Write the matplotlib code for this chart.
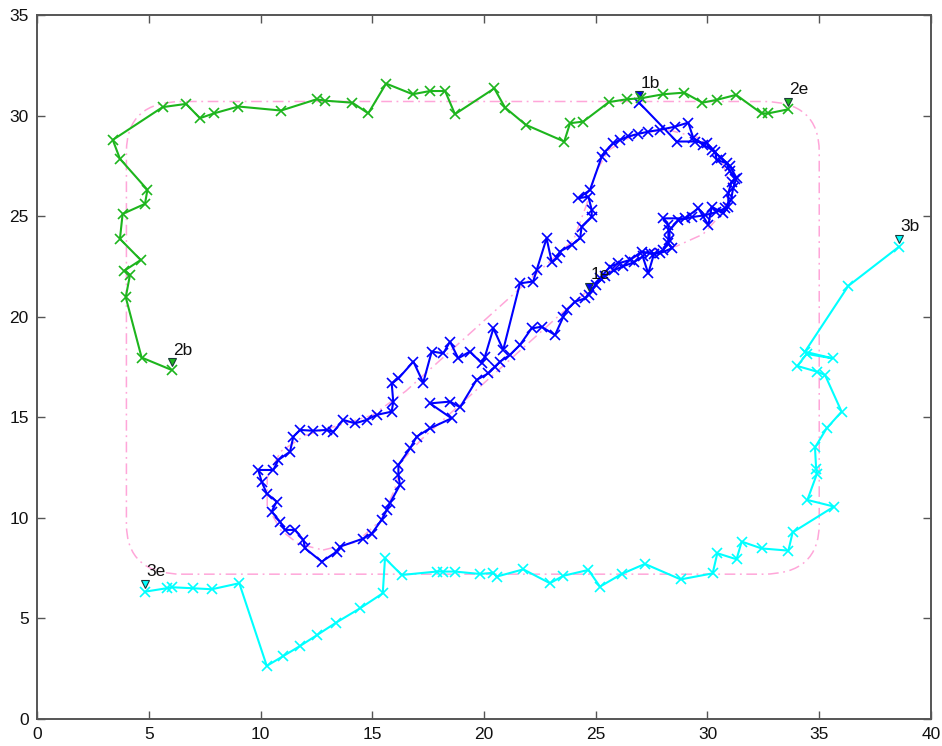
'''
trajectories of three robots with their reference paths (matlab style plot)
'''
import numpy as np
import matplotlib
matplotlib.use('Agg')
import matplotlib.pyplot as plt
from matplotlib.patches import FancyBboxPatch
from matplotlib.transforms import offset_copy

plt.rcParams['font.family'] = ['Liberation Sans', 'DejaVu Sans']

# robot 1 (blue) - follows the peanut shaped path
blue_x = [26.95, 28.62, 29.44, 29.96, 30.34, 30.41, 30.86, 31.0, 31.23, 31.08, 30.93, 30.93,
          30.71, 30.19, 30.04, 29.59, 28.99, 28.02, 28.25, 28.25, 28.4, 27.87, 27.43, 27.06,
          26.53, 26.01, 25.64, 25.19, 24.82, 24.52, 24.07, 23.7, 23.55, 23.18, 22.58, 22.13,
          21.61, 21.16, 20.72, 20.49, 20.19, 19.67, 18.93, 18.48, 17.58, 18.55, 17.58, 16.99,
          16.69, 16.17, 16.17, 16.24, 15.79, 15.65, 15.42, 14.98, 14.6, 13.56, 13.41, 12.74,
          11.99, 11.92, 11.54, 11.1, 10.87, 10.5, 10.72, 10.28, 10.05, 9.9, 10.57, 10.8,
          11.32, 11.47, 11.77, 12.36, 12.96, 13.26, 13.7, 14.23, 14.75, 15.2, 15.87, 15.94,
          15.87, 16.17, 16.84, 17.28, 17.66, 18.18, 18.48, 18.85, 19.37, 19.9, 20.04, 20.42,
          20.86, 21.61, 22.2, 22.36, 22.8, 23.03, 23.25, 23.4, 23.92, 24.3, 24.37, 24.82,
          24.82, 24.67, 24.22, 24.74, 25.27, 25.41, 25.79, 26.08, 26.46, 26.9, 27.35, 27.87,
          28.55, 29.14, 29.36, 29.8, 30.2, 30.6, 31.0, 31.3, 31.15, 31.05, 30.8, 30.4,
          29.9, 29.3, 28.7, 28.3, 28.3, 28.0, 27.6, 27.35, 27.1, 26.7, 26.2, 25.8,
          25.4, 25.0, 24.7]
blue_y = [30.63, 28.71, 28.71, 28.63, 28.21, 27.8, 27.63, 27.22, 26.87, 26.72, 26.13, 25.47,
          25.14, 25.47, 24.56, 25.39, 24.89, 24.89, 24.56, 23.65, 23.4, 23.15, 23.15, 23.24,
          22.82, 22.65, 22.49, 21.91, 21.33, 20.91, 20.75, 20.34, 20.0, 19.09, 19.5, 19.42,
          18.6, 18.1, 17.77, 17.52, 17.18, 16.86, 15.5, 15.78, 15.69, 14.95, 14.45, 14.04,
          13.45, 12.63, 12.13, 11.64, 10.73, 10.39, 9.9, 9.22, 8.97, 8.57, 8.32, 7.82,
          8.49, 8.9, 9.4, 9.4, 9.81, 10.31, 10.81, 11.21, 11.8, 12.38, 12.38, 12.88,
          13.29, 14.04, 14.37, 14.33, 14.37, 14.28, 14.87, 14.7, 14.87, 15.12, 15.28, 15.78,
          16.68, 16.93, 17.77, 16.72, 18.27, 18.18, 18.76, 17.93, 18.27, 17.68, 18.01, 19.42,
          18.35, 21.66, 21.75, 22.33, 23.9, 22.73, 22.9, 23.24, 23.57, 23.9, 24.48, 24.98,
          25.31, 25.97, 25.89, 26.3, 27.96, 28.21, 28.62, 28.79, 28.96, 29.09, 29.2, 29.29,
          29.45, 29.65, 28.9, 28.55, 28.3, 27.9, 27.5, 26.9, 26.4, 25.8, 25.4, 25.2,
          25.05, 24.95, 24.8, 24.3, 23.8, 23.3, 23.1, 22.15, 23.0, 22.7, 22.5, 22.3,
          22.0, 21.6, 21.1]

# robot 2 (green)
green_x = [6.03, 4.68, 3.97, 4.16, 3.91, 4.64, 3.71, 3.83, 4.83, 4.94, 3.71, 3.39,
           5.62, 6.67, 7.29, 7.92, 9.01, 10.92, 12.51, 12.89, 14.11, 14.82, 15.62, 16.81,
           17.58, 18.26, 18.7, 20.46, 20.94, 21.87, 23.59, 23.85, 24.44, 25.59, 26.38, 27.02,
           28.02, 28.96, 29.77, 30.41, 31.28, 32.42, 32.72, 33.61]
green_y = [17.35, 17.97, 20.97, 22.08, 22.29, 22.82, 23.87, 25.11, 25.61, 26.31, 27.85, 28.79,
           30.42, 30.58, 29.87, 30.11, 30.45, 30.25, 30.81, 30.74, 30.64, 30.11, 31.59, 31.06,
           31.22, 31.22, 30.07, 31.35, 30.4, 29.54, 28.71, 29.62, 29.7, 30.67, 30.81, 30.86,
           31.06, 31.14, 30.64, 30.78, 31.03, 30.11, 30.11, 30.31]

# robot 3 (cyan)
cyan_x = [38.57, 36.3, 34.36, 35.6, 34.44, 34.02, 34.89, 35.26, 36.0, 35.33, 34.81, 34.86,
          34.9, 34.47, 35.66, 33.81, 33.62, 32.42, 31.53, 31.3, 30.44, 30.23, 28.8, 27.2,
          26.16, 25.19, 24.67, 23.55, 22.95, 21.76, 20.57, 20.42, 19.82, 18.7, 18.18, 17.88,
          16.32, 15.57, 15.47, 14.45, 13.38, 12.54, 11.77, 11.02, 10.28, 9.05, 7.82, 6.97,
          6.03, 5.8, 4.83]
cyan_y = [23.48, 21.53, 18.26, 17.93, 18.15, 17.55, 17.27, 17.1, 15.28, 14.45, 13.5, 12.45,
          12.2, 10.89, 10.56, 9.28, 8.37, 8.48, 8.82, 7.94, 8.24, 7.24, 6.94, 7.71,
          7.21, 6.58, 7.41, 7.12, 6.75, 7.44, 7.08, 7.27, 7.21, 7.33, 7.33, 7.33,
          7.16, 7.99, 6.25, 5.5, 4.79, 4.18, 3.63, 3.13, 2.64, 6.75, 6.45, 6.5,
          6.55, 6.5, 6.33]

# reference paths (pink, dash dot)
rect_x0, rect_y0, rect_x1, rect_y1 = 4.0, 7.2, 35.0, 30.7
rect_radius = 2.5
peanut_x = [12.8, 14.3, 15.4, 16.0, 16.3, 17.2, 18.5, 23.4, 26.0, 27.5, 28.6, 29.8, 30.7,
            31.0, 30.6, 29.6, 28.2, 26.8, 25.6, 25.0, 24.6, 24.0, 19.5, 16.5, 15.0, 13.5,
            12.0, 10.9, 10.3, 10.3, 10.9, 11.7, 12.8]
peanut_y = [8.4, 8.8, 9.9, 11.4, 12.8, 13.9, 15.2, 20.1, 22.6, 23.3, 23.5, 24.1, 25.2,
            26.5, 27.9, 28.9, 29.3, 29.1, 28.3, 27.2, 25.6, 23.8, 19.3, 16.3, 15.1, 14.6,
            14.1, 13.3, 12.0, 10.6, 9.4, 8.7, 8.4]

robot_names = ['1', '2', '3']
robot_colors = ['#0000ff', '#1db51d', '#00ffff']

ref_color = '#ffa6d9'
ref_style = (0, (7, 3, 1.2, 3))

fig = plt.figure(figsize=(9.42, 7.46), dpi=100)
ax = fig.add_axes([0.0393, 0.0362, 0.9490, 0.9437])

# reference paths
box = FancyBboxPatch((rect_x0, rect_y0), rect_x1 - rect_x0, rect_y1 - rect_y0,
                     boxstyle='round,pad=0,rounding_size=%g' % rect_radius,
                     fill=False, edgecolor=ref_color, linewidth=1.1, linestyle=ref_style)
ax.add_patch(box)
ax.plot(peanut_x, peanut_y, color=ref_color, lw=1.1, linestyle=ref_style)

# trajectories
tracks = [(blue_x, blue_y), (green_x, green_y), (cyan_x, cyan_y)]
tri_trans = offset_copy(ax.transData, fig=fig, x=0, y=5.5, units='points')
txt_trans = offset_copy(ax.transData, fig=fig, x=1, y=11, units='points')

for (xs, ys), name, col in zip(tracks, robot_names, robot_colors):
    ax.plot(xs, ys, '-', color=col, lw=1.5, marker='x', ms=6.5, mew=1.2)
    # begin / end markers
    for idx, tag in [(0, 'b'), (-1, 'e')]:
        ax.plot(xs[idx], ys[idx], 'v', color=col, ms=6, mec='#1a3a3a', mew=0.8,
                transform=tri_trans)
        ax.text(xs[idx], ys[idx], name + tag, transform=txt_trans, fontsize=12.5,
                ha='left', va='baseline', color='#111111')

ax.set_xlim(0, 40)
ax.set_ylim(0, 35)
ax.set_xticks(np.arange(0, 41, 5))
ax.set_yticks(np.arange(0, 36, 5))

for sp in ax.spines.values():
    sp.set_color('#555555')
    sp.set_linewidth(1.4)
ax.tick_params(direction='in', length=6, width=1.0, color='#555555',
               top=True, right=True, labelsize=12.5, labelcolor='#111111', pad=6)

fig.savefig('out.png', dpi=100)
